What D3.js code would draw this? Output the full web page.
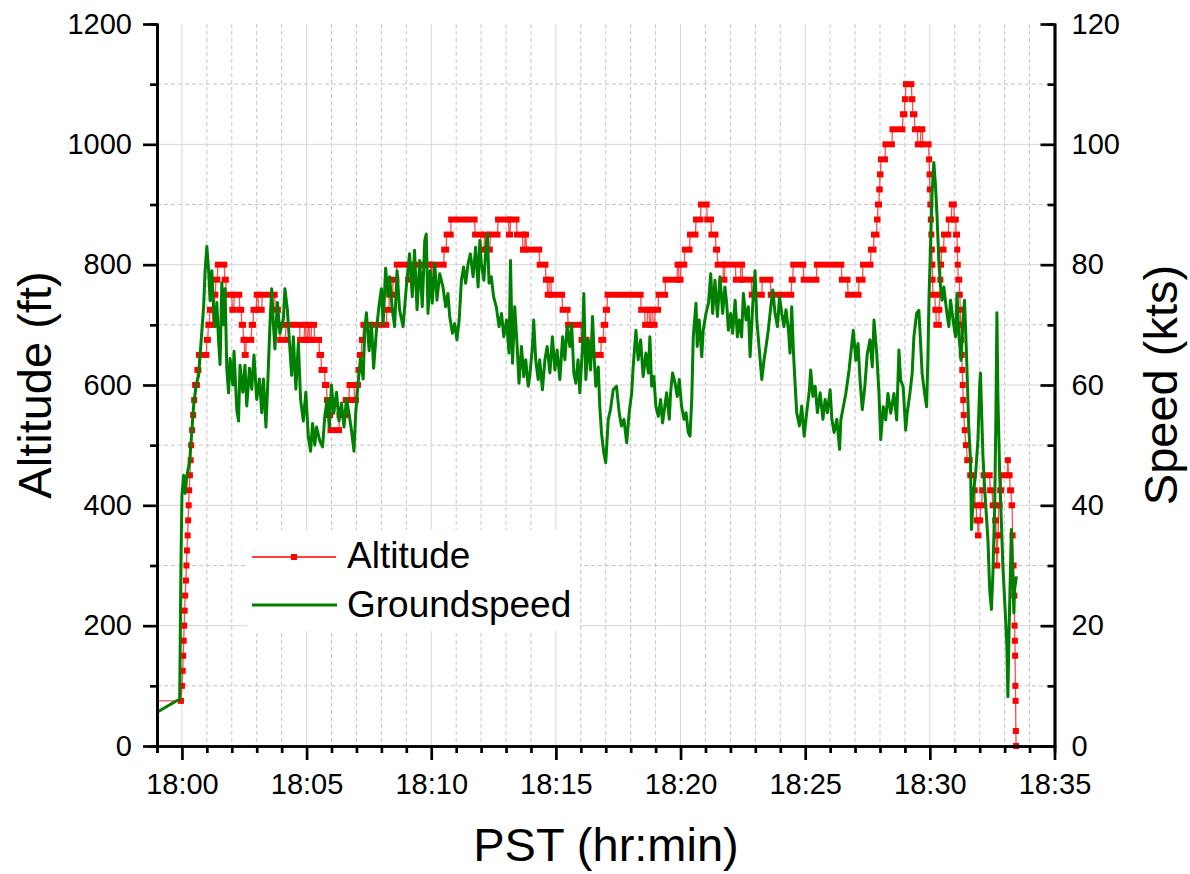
<!DOCTYPE html>
<html>
<head>
<meta charset="utf-8">
<script src="https://cdn.jsdelivr.net/npm/d3@7"></script>
<style>
    body { margin: 0; background: #fff; }
    svg { font-family: "Liberation Sans", Arial, sans-serif; }
</style>
</head>
<body>
<svg id="chart" width="1190" height="874"></svg>
<script>
// time is in minutes after 18:00
const timeTicks = [0, 5, 10, 15, 20, 25, 30, 35];
const timeLabels = ["18:00", "18:05", "18:10", "18:15", "18:20", "18:25", "18:30", "18:35"];
const altTicks = [0, 200, 400, 600, 800, 1000, 1200];
const speedTicks = [0, 20, 40, 60, 80, 100, 120];

// altitude lead-in point (line only), then runs [start min, end min, ft]
const altitudeStart = [-1, 75];
const altitudeRuns = [
    [-0.04,-0.04,75],[0.0,0.0,100],[0.03,0.03,125],[0.05,0.05,150],[0.07,0.07,175],[0.09,0.09,200],
    [0.11,0.11,225],[0.13,0.13,250],[0.16,0.16,275],[0.18,0.18,300],[0.2,0.2,325],[0.23,0.23,350],
    [0.25,0.25,375],[0.27,0.27,400],[0.29,0.29,425],[0.32,0.32,450],[0.35,0.35,475],[0.37,0.37,500],
    [0.41,0.41,525],[0.45,0.45,550],[0.49,0.49,575],[0.53,0.6,600],[0.62,0.66,625],[0.68,0.98,650],
    [1.0,1.04,675],[1.06,1.1,700],[1.12,1.22,725],[1.24,1.26,700],[1.28,1.3,725],[1.32,1.34,750],
    [1.36,1.42,775],[1.44,1.7,800],[1.72,1.76,775],[1.78,2.0,750],[2.02,2.08,725],[2.1,2.3,750],
    [2.32,2.38,725],[2.4,2.45,700],[2.47,2.5,675],[2.52,2.56,650],[2.58,2.78,675],[2.8,2.85,700],
    [2.87,2.98,725],[3.0,3.05,750],[3.07,3.2,725],[3.22,3.72,750],[3.74,3.85,725],[3.87,3.92,700],
    [3.94,4.15,675],[4.17,4.72,700],[4.74,4.9,675],[4.92,4.96,700],[4.98,5.04,675],[5.06,5.1,700],
    [5.12,5.18,675],[5.2,5.3,700],[5.32,5.5,675],[5.52,5.58,650],[5.6,5.72,625],[5.74,5.8,600],
    [5.82,5.86,575],[5.88,5.94,550],[5.96,6.3,525],[6.32,6.55,550],[6.57,6.7,575],[6.72,6.9,600],
    [6.92,6.98,575],[7.0,7.06,600],[7.08,7.12,625],[7.14,7.2,650],[7.22,7.26,675],[7.28,8.2,700],
    [8.22,8.3,725],[8.32,8.45,750],[8.47,8.6,775],[8.62,9.05,800],[9.07,9.09,775],[9.11,9.98,800],
    [10.0,10.02,775],[10.04,10.5,800],[10.52,10.6,825],[10.62,10.78,850],[10.8,11.74,875],
    [11.76,11.98,850],[12.0,12.12,825],[12.14,12.2,850],[12.22,12.35,825],[12.37,12.66,850],
    [12.68,13.1,875],[13.12,13.16,850],[13.18,13.42,875],[13.44,13.66,850],[13.68,13.75,825],
    [13.77,13.8,850],[13.82,14.33,825],[14.35,14.58,800],[14.6,14.65,775],[14.67,14.72,750],
    [14.74,14.8,775],[14.82,15.25,750],[15.27,15.47,725],[15.49,16.0,700],[16.03,16.23,675],
    [16.25,16.8,650],[16.82,16.9,675],[16.92,16.98,700],[17.0,17.05,725],[17.07,18.4,750],
    [18.42,18.56,725],[18.58,18.66,700],[18.68,18.74,725],[18.76,18.8,700],[18.82,18.88,725],
    [18.9,18.96,700],[18.98,19.1,725],[19.12,19.38,750],[19.4,19.86,775],[19.88,19.92,800],
    [19.94,20.0,775],[20.02,20.15,800],[20.17,20.36,825],[20.38,20.6,850],[20.62,20.8,875],
    [20.82,21.05,900],[21.07,21.22,875],[21.24,21.4,850],[21.42,21.47,825],[21.49,21.7,800],
    [21.72,21.76,775],[21.78,22.2,800],[22.22,22.4,775],[22.42,22.47,800],[22.49,22.84,775],
    [22.86,23.26,750],[23.28,23.6,775],[23.62,24.44,750],[24.46,24.5,775],[24.52,24.92,800],
    [24.94,25.45,775],[25.47,26.45,800],[26.47,26.7,775],[26.72,27.14,750],[27.16,27.3,775],
    [27.32,27.62,800],[27.64,27.74,825],[27.76,27.86,850],[27.88,27.9,875],[27.92,27.96,900],
    [27.97,27.99,925],[28.0,28.02,950],[28.04,28.2,975],[28.22,28.48,1000],[28.5,28.9,1025],
    [28.92,28.98,1050],[29.0,29.02,1075],[29.04,29.26,1100],[29.28,29.3,1075],[29.32,29.38,1050],
    [29.4,29.5,1025],[29.52,29.62,1000],[29.64,29.7,1025],[29.72,29.95,1000],[29.97,29.97,975],
    [29.99,29.99,950],[30.0,30.0,925],[30.02,30.02,900],[30.04,30.04,875],[30.06,30.06,850],
    [30.08,30.08,825],[30.1,30.1,800],[30.11,30.11,775],[30.12,30.2,750],[30.22,30.24,725],
    [30.26,30.36,700],[30.38,30.38,725],[30.4,30.4,750],[30.42,30.42,775],[30.44,30.45,800],
    [30.47,30.55,825],[30.57,30.74,850],[30.76,30.86,875],[30.88,30.96,900],[30.98,31.04,875],
    [31.05,31.09,850],[31.1,31.1,825],[31.12,31.12,800],[31.14,31.18,775],[31.2,31.2,750],
    [31.22,31.22,725],[31.24,31.24,700],[31.26,31.26,675],[31.28,31.28,650],[31.3,31.3,625],
    [31.32,31.32,600],[31.34,31.34,575],[31.36,31.36,550],[31.4,31.4,525],[31.45,31.47,500],
    [31.5,31.6,475],[31.62,31.75,450],[31.77,31.8,425],[31.82,31.86,400],[31.88,31.92,375],
    [31.93,31.95,350],[31.97,32.02,375],[32.04,32.08,400],[32.1,32.14,425],[32.16,32.4,450],
    [32.42,32.5,425],[32.52,32.6,400],[32.62,32.65,375],[32.66,32.66,350],[32.67,32.67,325],
    [32.68,32.7,300],[32.72,32.74,350],[32.76,32.8,400],[32.82,32.86,425],[32.88,33.1,450],
    [33.13,33.13,475],[33.16,33.2,450],[33.22,33.26,425],[33.28,33.3,400],[33.32,33.32,350],
    [33.35,33.36,300],[33.38,33.38,275],[33.39,33.39,250],[33.4,33.4,200],[33.41,33.41,175],
    [33.42,33.42,150],[33.43,33.43,100],[33.44,33.44,75],[33.45,33.45,25],[33.46,33.46,0]
];

// groundspeed [min, kts]
const groundspeed = [
    [-1,5.6],[-0.09,7.8],[-0.04,30],[0,41.6],[0.07,45],[0.13,42],[0.2,45],[0.31,47.3],[0.4,52.5],
    [0.47,56.6],[0.57,60],[0.67,61.6],[0.73,65],[0.8,69],[0.87,73],[0.93,79],[1.0,83],[1.07,79],
    [1.13,74],[1.2,79],[1.27,72.5],[1.33,69.7],[1.4,73.7],[1.47,67.4],[1.53,63.4],[1.6,77],[1.67,70],
    [1.73,76],[1.8,62.7],[1.87,58.7],[1.93,64.4],[2.04,60],[2.09,65.6],[2.2,55.9],[2.27,54],
    [2.33,63.3],[2.44,58.8],[2.53,63.3],[2.6,56.5],[2.71,62.8],[2.8,59.3],[2.89,65],[3.0,57.6],
    [3.11,61],[3.2,55.4],[3.27,61],[3.37,53],[3.44,60],[3.53,70],[3.6,76],[3.67,70],[3.73,66],
    [3.83,73.7],[3.93,68.6],[4.07,71],[4.13,76],[4.23,72.5],[4.31,67.4],[4.4,61.6],[4.47,68],
    [4.57,59.3],[4.67,67],[4.76,57.6],[4.87,54],[4.97,58.8],[5.07,51.4],[5.16,49],[5.24,53.6],
    [5.33,50],[5.4,53],[5.53,50.7],[5.64,49.7],[5.73,54.8],[5.83,57.7],[5.91,53],[6.0,60],[6.09,55.3],
    [6.2,58.8],[6.3,54],[6.4,57],[6.5,53],[6.6,57.7],[6.7,55.3],[6.8,52.5],[6.9,49],[6.97,55.3],
    [7.07,60.5],[7.16,64.4],[7.27,61],[7.33,69],[7.4,72],[7.51,65.7],[7.6,70.3],[7.69,62.8],[7.8,69],
    [7.9,73],[8.0,76],[8.07,70],[8.17,79.4],[8.27,74.8],[8.33,78],[8.44,72.5],[8.53,69.7],[8.63,79],
    [8.73,72.5],[8.87,69.7],[9.0,76.3],[9.13,81.8],[9.24,74.7],[9.33,82.4],[9.43,72.5],[9.54,80.7],
    [9.64,73],[9.74,84],[9.8,85.1],[9.87,71.9],[9.96,79],[10.04,73.6],[10.14,80.2],[10.23,74.1],
    [10.34,78.5],[10.47,76.3],[10.58,73],[10.67,75.2],[10.74,71.4],[10.85,68.6],[10.94,70.2],
    [11.03,67.5],[11.12,70.8],[11.21,77.4],[11.3,79.6],[11.38,76.9],[11.48,80.2],[11.57,81.8],
    [11.68,78],[11.78,82.9],[11.88,76.3],[11.95,84],[12.01,80.2],[12.11,77.4],[12.19,82.4],
    [12.25,85.1],[12.32,76.9],[12.41,78],[12.5,74.7],[12.61,73],[12.72,69.7],[12.82,71.9],[12.91,68],
    [13.02,70.8],[13.12,65.3],[13.18,80.7],[13.26,63.6],[13.35,73],[13.44,66.9],[13.52,60.3],
    [13.62,66.4],[13.71,61.4],[13.79,64.2],[13.89,59.8],[13.95,61.4],[14.06,66.4],[14.11,70.8],
    [14.19,64.2],[14.29,60.9],[14.35,64.2],[14.46,59.2],[14.56,64.2],[14.65,66.4],[14.76,62],
    [14.86,68],[14.96,62.5],[15.05,65.8],[15.16,60.9],[15.27,68],[15.36,64.2],[15.45,69.7],
    [15.56,66.4],[15.63,70.2],[15.72,62],[15.8,60.3],[15.89,64.2],[15.96,58.7],[16.07,66.4],
    [16.12,75.2],[16.2,60.9],[16.3,67.5],[16.39,62.5],[16.47,71.4],[16.54,64.2],[16.6,59.8],
    [16.7,63],[16.76,56.5],[16.83,52],[16.92,48.8],[17.0,47.1],[17.1,54.3],[17.19,55.9],[17.3,59.2],
    [17.43,59.8],[17.54,55.4],[17.63,53.2],[17.73,54.3],[17.84,50.4],[17.94,55.4],[18.04,58.7],
    [18.1,63],[18.21,69.1],[18.3,64.2],[18.4,67.5],[18.5,61.4],[18.61,65.3],[18.71,62],[18.77,68],
    [18.84,59.8],[18.93,61.4],[19.01,56.5],[19.11,54.8],[19.2,57.6],[19.28,53.7],[19.37,56.5],
    [19.44,58.7],[19.55,54.3],[19.6,58.7],[19.68,62],[19.78,60.3],[19.87,58.1],[19.95,60.9],
    [20.04,56.5],[20.14,54.3],[20.22,55.4],[20.31,52.1],[20.38,51.5],[20.45,57.6],[20.51,68],
    [20.62,73.6],[20.67,66.4],[20.75,70.8],[20.85,64.7],[20.91,69.1],[21.02,71.9],[21.12,73.6],
    [21.21,78.5],[21.29,71.9],[21.38,77.4],[21.48,71.4],[21.58,78],[21.69,71.9],[21.78,76.3],
    [21.85,73.6],[21.92,69.1],[22.01,71.9],[22.09,68.6],[22.19,74.1],[22.28,68],[22.36,70.8],
    [22.45,68],[22.52,75.2],[22.63,70.8],[22.72,73],[22.79,64.7],[22.9,73.6],[22.99,79],[23.06,70.8],
    [23.16,65.8],[23.26,60.9],[23.35,64.2],[23.43,66.4],[23.52,69.1],[23.62,73],[23.7,75.8],
    [23.79,71.9],[23.89,69.7],[23.97,74.7],[24.06,71.9],[24.15,69.7],[24.23,72.5],[24.33,69.1],
    [24.39,65.3],[24.46,73],[24.53,65.3],[24.6,59.8],[24.66,55.4],[24.77,53.2],[24.86,56.5],
    [24.96,51.5],[25.06,55.4],[25.17,59.2],[25.22,62.5],[25.31,58.1],[25.4,59.8],[25.49,55.4],
    [25.6,58.7],[25.71,54.3],[25.8,57.6],[25.89,55.4],[26.0,59.2],[26.07,54.3],[26.16,52.1],
    [26.27,54.3],[26.38,49.3],[26.43,54.2],[26.63,58.6],[26.76,62.5],[26.93,69.1],[27.03,64.1],
    [27.12,66.9],[27.2,60.8],[27.29,55.9],[27.39,59.7],[27.49,65.2],[27.6,67.5],[27.69,63],
    [27.76,70.8],[27.87,65.2],[27.96,58.6],[28.03,50.9],[28.13,56.4],[28.23,54.2],[28.32,58.6],
    [28.43,55.3],[28.56,58.6],[28.67,54.2],[28.76,65.8],[28.83,60.8],[28.93,59.7],[29.03,52.5],
    [29.09,55.3],[29.2,58.6],[29.29,61.9],[29.36,68],[29.47,71.9],[29.56,72.4],[29.63,66.9],
    [29.69,61.9],[29.79,58.6],[29.87,56.4],[29.92,64.1],[29.97,75.2],[30.03,83.5],[30.09,91.8],
    [30.16,97],[30.23,92.9],[30.29,87.9],[30.36,80.7],[30.43,76.3],[30.49,74.1],[30.56,76.3],
    [30.67,72.4],[30.76,69.7],[30.83,74.1],[30.93,70.8],[31.03,68],[31.09,75.2],[31.16,68.6],
    [31.25,64.1],[31.33,70.8],[31.39,74.1],[31.47,65.2],[31.52,58.6],[31.56,53.1],[31.63,47.6],
    [31.67,36],[31.75,42],[31.84,45.4],[31.93,51],[32.0,60],[32.03,62],[32.08,55],[32.13,48.2],
    [32.2,42.7],[32.33,34.3],[32.4,26],[32.47,22.7],[32.53,28.8],[32.6,39.9],[32.65,55],[32.69,72],
    [32.73,58],[32.8,45.4],[32.87,37.1],[32.93,29.9],[33.04,21],[33.09,16.6],[33.13,8.2],
    [33.17,17.7],[33.23,28.8],[33.27,36],[33.32,28.8],[33.37,22.1],[33.4,26],[33.47,28.2]
];

const legendItems = ["Altitude", "Groundspeed"];

class FlightChart {
    constructor(selector) {
        this.svg = d3.select(selector);
        this.left = 157; this.right = 1054.5;
        this.top = 24; this.bottom = 746;

        this.x = d3.scaleLinear().domain([-1, 35]).range([this.left, this.right]);
        this.yAlt = d3.scaleLinear().domain([0, 1200]).range([this.bottom, this.top]);
        this.ySpd = d3.scaleLinear().domain([0, 120]).range([this.bottom, this.top]);
    }

    render() {
        const svg = this.svg;
        const x = this.x, yAlt = this.yAlt, ySpd = this.ySpd;

        // grid
        const grid = svg.append("g");
        const minorX = d3.range(1, 35).filter(d => d % 5 !== 0);
        const minorY = d3.range(100, 1200, 200);
        grid.selectAll(".gx-minor").data(minorX).enter().append("line")
            .attr("x1", d => x(d)).attr("x2", d => x(d))
            .attr("y1", this.top).attr("y2", this.bottom)
            .attr("stroke", "#c4c4c4").attr("stroke-dasharray", "4,3");
        grid.selectAll(".gy-minor").data(minorY).enter().append("line")
            .attr("x1", this.left).attr("x2", this.right)
            .attr("y1", d => yAlt(d)).attr("y2", d => yAlt(d))
            .attr("stroke", "#c4c4c4").attr("stroke-dasharray", "4,3");
        grid.selectAll(".gx-major").data(timeTicks.slice(0, -1)).enter().append("line")
            .attr("x1", d => x(d)).attr("x2", d => x(d))
            .attr("y1", this.top).attr("y2", this.bottom)
            .attr("stroke", "#d6d6d6");
        grid.selectAll(".gy-major").data(altTicks.slice(1, -1)).enter().append("line")
            .attr("x1", this.left).attr("x2", this.right)
            .attr("y1", d => yAlt(d)).attr("y2", d => yAlt(d))
            .attr("stroke", "#d6d6d6");

        // legend background hides grid behind it
        svg.append("rect").attr("x", 247).attr("y", 530).attr("width", 333).attr("height", 101)
            .attr("fill", "#fff");

        const plot = svg.append("g");
        svg.append("clipPath").attr("id", "clip").append("rect")
            .attr("x", this.left).attr("y", this.top - 5)
            .attr("width", this.right - this.left).attr("height", this.bottom - this.top + 10);
        plot.attr("clip-path", "url(#clip)");

        // altitude
        const altPts = [altitudeStart];
        altitudeRuns.forEach(r => {
            altPts.push([r[0], r[2]]);
            if (r[1] > r[0]) altPts.push([r[1], r[2]]);
        });
        plot.append("path")
            .attr("d", d3.line().x(d => x(d[0])).y(d => yAlt(d[1]))(altPts))
            .attr("fill", "none").attr("stroke", "#ff0000").attr("stroke-opacity", 0.7)
            .attr("stroke-width", 1.3);
        const m = 6;
        plot.append("g").selectAll("rect").data(altitudeRuns).enter().append("rect")
            .attr("x", d => x(d[0]) - m / 2)
            .attr("y", d => yAlt(d[2]) - m / 2)
            .attr("width", d => x(d[1]) - x(d[0]) + m)
            .attr("height", m)
            .attr("fill", "#ff0000");

        // groundspeed
        plot.append("path")
            .attr("d", d3.line().x(d => x(d[0])).y(d => ySpd(d[1]))(groundspeed))
            .attr("fill", "none").attr("stroke", "#008000")
            .attr("stroke-width", 3).attr("stroke-linejoin", "round");

        // axes
        const styleAxis = g => {
            g.select(".domain").attr("stroke", "#000").attr("stroke-width", 2.7);
            g.selectAll(".tick line").attr("stroke", "#000").attr("stroke-width", 2.7);
            g.selectAll("text").attr("font-size", 29).attr("fill", "#000")
                .attr("font-family", "'Liberation Sans', Arial, sans-serif");
        };

        const minorT = d3.range(-1, 35).filter(d => d % 5 !== 0);
        svg.append("g").attr("transform", `translate(0,${this.bottom})`)
            .call(d3.axisBottom(x).tickValues(minorT).tickSize(7).tickFormat(""))
            .call(styleAxis);
        svg.append("g").attr("transform", `translate(0,${this.bottom})`)
            .call(d3.axisBottom(x).tickValues(timeTicks).tickSize(14).tickSizeOuter(0)
                .tickPadding(13).tickFormat((d, i) => timeLabels[i]))
            .call(styleAxis);

        svg.append("g").attr("transform", `translate(${this.left},0)`)
            .call(d3.axisLeft(yAlt).tickValues(d3.range(100, 1200, 200)).tickSize(7).tickFormat(""))
            .call(styleAxis);
        svg.append("g").attr("transform", `translate(${this.left},0)`)
            .call(d3.axisLeft(yAlt).tickValues(altTicks).tickSize(14).tickSizeOuter(0)
                .tickPadding(11).tickFormat(d3.format("d")))
            .call(styleAxis);

        svg.append("g").attr("transform", `translate(${this.right},0)`)
            .call(d3.axisRight(ySpd).tickValues(d3.range(10, 120, 20)).tickSize(-7).tickFormat(""))
            .call(styleAxis);
        svg.append("g").attr("transform", `translate(${this.right},0)`)
            .call(d3.axisRight(ySpd).tickValues(speedTicks).tickSize(-14).tickSizeOuter(0)
                .tickPadding(17).tickFormat(d3.format("d")))
            .call(styleAxis);

        // titles
        svg.append("text").attr("transform", "translate(51,385) rotate(-90)")
            .attr("text-anchor", "middle").attr("font-size", 47).text("Altitude (ft)");
        svg.append("text").attr("transform", "translate(1177,385) rotate(-90)")
            .attr("text-anchor", "middle").attr("font-size", 47).text("Speed (kts)");
        svg.append("text").attr("x", 606).attr("y", 861)
            .attr("text-anchor", "middle").attr("font-size", 47).text("PST (hr:min)");

        // legend
        const lg = svg.append("g");
        lg.append("line").attr("x1", 252).attr("x2", 336).attr("y1", 557).attr("y2", 557)
            .attr("stroke", "#ff0000").attr("stroke-width", 1.3);
        lg.append("rect").attr("x", 291).attr("y", 554).attr("width", 6).attr("height", 6)
            .attr("fill", "#ff0000");
        lg.append("line").attr("x1", 252).attr("x2", 337).attr("y1", 605).attr("y2", 605)
            .attr("stroke", "#008000").attr("stroke-width", 2.8);
        lg.selectAll("text").data(legendItems).enter().append("text")
            .attr("x", 347).attr("y", (d, i) => 568 + i * 49)
            .attr("font-size", 37).text(d => d);
    }
}

const chart = new FlightChart("#chart");
chart.render();
</script>
</body>
</html>
